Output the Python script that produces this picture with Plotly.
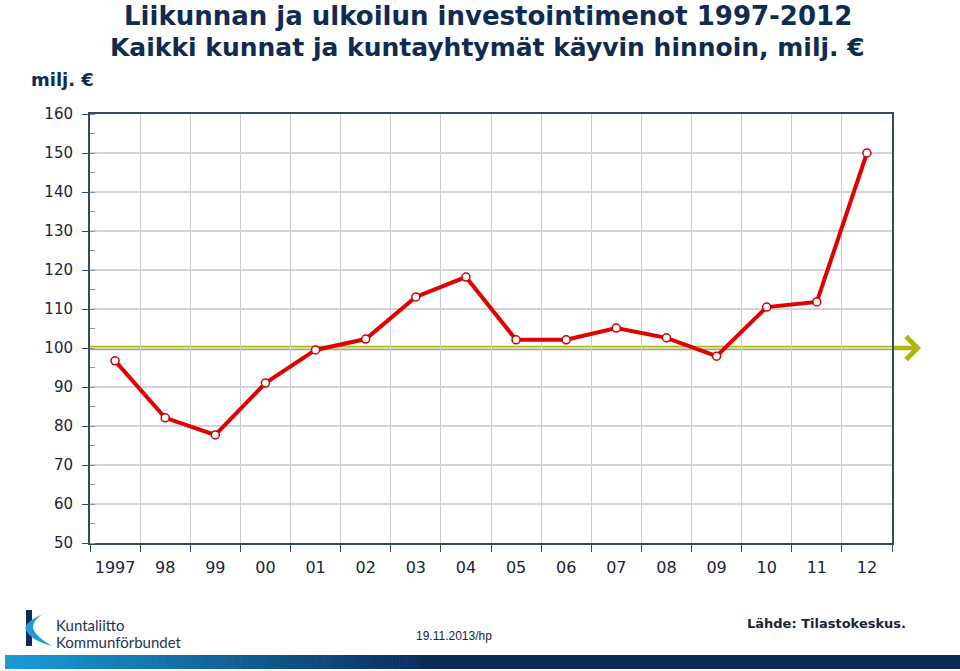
import plotly.graph_objects as go

# ---- data ----
years = ["1997", "98", "99", "00", "01", "02", "03", "04", "05", "06", "07", "08", "09", "10", "11", "12"]
values = [96.7, 82.1, 77.7, 91.0, 99.5, 102.3, 113.1, 118.2, 102.1, 102.1, 105.1, 102.6, 97.9, 110.5, 111.8, 150.0]
baseline = 100
y_ticks = [50, 60, 70, 80, 90, 100, 110, 120, 130, 140, 150, 160]

W, H = 960, 671
L, R, T, B = 90, 892, 114, 543

def px(x):
    return (x - L) / (R - L)

def py(y):
    return (B - y) / (B - T)

NAVY = "#0f2b52"
AX = "#34496a"
TXT = "#1b2438"
GREEN = "#adb60c"

fig = go.Figure()

# baseline reference line (green arrow)
fig.add_shape(type="line", xref="paper", yref="y", x0=0, x1=px(917), y0=baseline, y1=baseline,
              line=dict(color=GREEN, width=4.5), layer="between")
fig.add_annotation(xref="paper", yref="y", x=px(921), y=baseline, ax=-25, ay=0,
                   showarrow=True, arrowhead=4, arrowsize=1.1, arrowwidth=4, arrowcolor=GREEN, text="")

fig.add_trace(go.Scatter(
    x=years, y=values, mode="lines+markers",
    line=dict(color="#e00000", width=4),
    marker=dict(size=8, color="white", line=dict(color="#d00000", width=1.5)),
    cliponaxis=False, showlegend=False,
))

fig.update_xaxes(
    type="category", range=[-0.5, 15.5], tickson="boundaries",
    showgrid=True, gridcolor="#c9ced6", gridwidth=1,
    showline=True, linecolor=AX, linewidth=2, mirror=True,
    ticks="outside", ticklen=7, tickcolor=AX, tickwidth=1,
    tickfont=dict(family="DejaVu Sans", size=16, color=TXT),
    ticklabelstandoff=9,
)
fig.update_yaxes(
    range=[50, 160], tickvals=y_ticks,
    showgrid=True, gridcolor="#d0d3d8", gridwidth=1.5,
    showline=True, linecolor=AX, linewidth=2, mirror=True,
    ticks="outside", ticklen=6, tickcolor=AX,
    minor=dict(dtick=5, ticks="inside", ticklen=5, tickcolor="#8a94a4", showgrid=False),
    tickfont=dict(family="DejaVu Sans", size=15, color=TXT),
    ticklabelstandoff=6, zeroline=False,
)

annotations = [
    dict(text="<b>Liikunnan ja ulkoilun investointimenot 1997-2012</b>", x=px(488), y=py(16),
         font=dict(size=26, color=NAVY, family="DejaVu Sans")),
    dict(text="<b>Kaikki kunnat ja kuntayhtymät käyvin hinnoin, milj. €</b>", x=px(487), y=py(47),
         font=dict(size=25, color=NAVY, family="DejaVu Sans")),
    dict(text="<b>milj. €</b>", x=px(62), y=py(79),
         font=dict(size=18, color=NAVY, family="DejaVu Sans")),
    dict(text="Kuntaliitto", x=px(54), y=py(625), xanchor="left",
         font=dict(size=15, color="#1c3558", family="Lato, Open Sans")),
    dict(text="Kommunförbundet", x=px(54), y=py(642), xanchor="left",
         font=dict(size=15, color="#1c3558", family="Lato, Open Sans")),
    dict(text="19.11.2013/hp", x=px(454), y=py(636),
         font=dict(size=12, color=TXT, family="Liberation Sans, Arial")),
    dict(text="<b>Lähde: Tilastokeskus.</b>", x=px(826), y=py(623),
         font=dict(size=13, color=TXT, family="DejaVu Sans")),
]
for a in annotations:
    a.setdefault("xanchor", "center")
    fig.add_annotation(xref="paper", yref="paper", showarrow=False, yanchor="middle", **a)

# logo K
fig.add_shape(type="rect", xref="paper", yref="paper", x0=px(26), x1=px(32), y0=py(646), y1=py(610),
              fillcolor="#0e2e5a", line_width=0)
path = (f"M {px(50)},{py(611)} Q {px(22)},{py(622)} {px(26)},{py(630)} "
        f"Q {px(30)},{py(640)} {px(52)},{py(646)} Q {px(35)},{py(636)} {px(33)},{py(628)} "
        f"Q {px(33)},{py(617)} {px(50)},{py(611)} Z")
fig.add_shape(type="path", xref="paper", yref="paper", path=path, fillcolor="#1e9ad6", line_width=0)

# bottom gradient bar
n = 60
x_start, x_grad_end, x_end = 5, 420, 960
c0 = (26, 156, 214)
c1 = (12, 48, 96)
for i in range(n):
    xa = x_start + (x_grad_end - x_start) * i / n
    xb = x_start + (x_grad_end - x_start) * (i + 1) / n + 0.6
    t = i / (n - 1)
    c = tuple(int(c0[k] + (c1[k] - c0[k]) * t) for k in range(3))
    fig.add_shape(type="rect", xref="paper", yref="paper", x0=px(xa), x1=px(xb), y0=py(669), y1=py(655),
                  fillcolor="rgb(%d,%d,%d)" % c, line_width=0)
fig.add_shape(type="rect", xref="paper", yref="paper", x0=px(x_grad_end), x1=px(x_end), y0=py(669), y1=py(655),
              fillcolor="rgb(12,44,88)", line_width=0)

fig.update_layout(
    width=W, height=H,
    margin=dict(l=L, r=W - R, t=T, b=H - B, pad=0),
    paper_bgcolor="white", plot_bgcolor="white",
    showlegend=False,
)

fig.write_html("out.html", config={"displayModeBar": False},
               post_script="document.body.style.margin='0';document.body.style.padding='0';")
